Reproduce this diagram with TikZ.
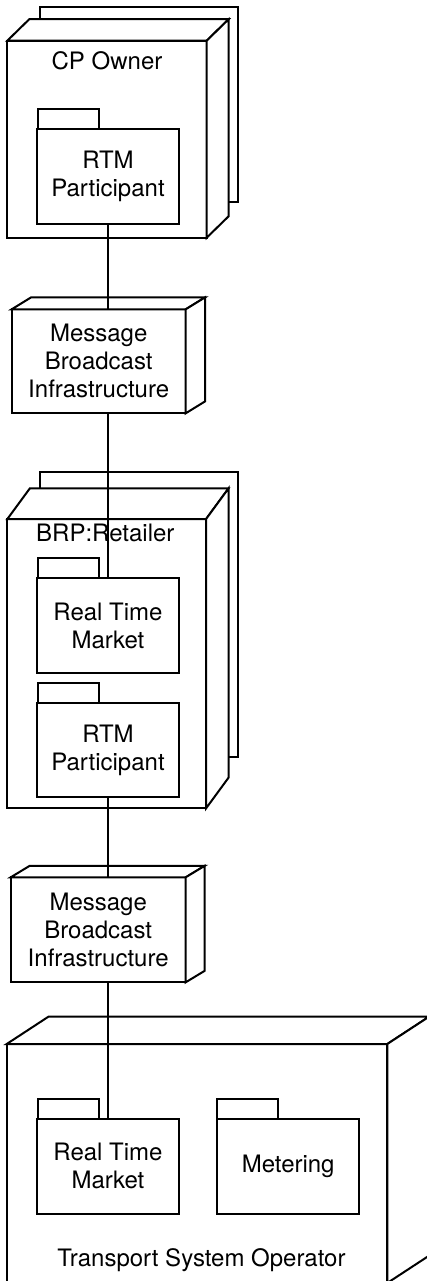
\documentclass[tikz,border=0pt]{standalone}
\usepackage{fontspec}
\setmainfont{TeX Gyre Heros}
\usetikzlibrary{calc}

% top and right faces of a 3D deployment node drawn behind its front face
\newcommand\nodefaces[3]{%
  \draw[edge,fill=white] (#1.north west) -- ++(#2,#3)
    -- ($(#1.north east)+(#2,#3)$) -- (#1.north east) -- cycle;
  \draw[edge,fill=white] (#1.north east) -- ++(#2,#3)
    -- ($(#1.south east)+(#2,#3)$) -- (#1.south east) -- cycle;
}
% small tab on top of a package
\newcommand\pkgtab[2]{%
  \draw[edge,fill=white] ($(#1.north west)+(#2,0)$) rectangle ++(60.5,-20);
}

\tikzset{
  edge/.style={line width=2pt, line join=miter},
  txt/.style={font=\fontsize{24}{28}\selectfont, align=center, inner sep=0pt},
  front/.style={edge, draw, fill=white, rectangle, inner sep=0pt, outer sep=0pt},
  pkg/.style={front, txt, minimum width=142.6pt, minimum height=95pt},
  wire/.style={line width=2pt},
}

\begin{document}
\begin{tikzpicture}[x=1pt,y=-1pt]
\useasboundingbox (0,0) rectangle (427,1281);
\clip (0,0) rectangle (427,1281);

% ---- CP Owner (stacked node)
\draw[edge,fill=white] (40,7.3) rectangle (238.3,201.7);
\node[front, minimum width=199.4pt, minimum height=197pt] (cpOwner) at (107,139.2) {};
\nodefaces{cpOwner}{22}{-21.5}
\node[txt, anchor=base] (cpLbl) at (107,69.3) {CP Owner};
\node[pkg] (cpRTMP) at (108,176.5) {RTM\\Participant};
\pkgtab{cpRTMP}{1.6}

% ---- first message broadcast infrastructure
\node[front, txt, minimum width=174pt, minimum height=104pt] (mbiA) at (98.7,361.3)
  {Message\\Broadcast\\Infrastructure};
\nodefaces{mbiA}{19.5}{-12}

% ---- BRP:Retailer (stacked node)
\draw[edge,fill=white] (40,471.7) rectangle (238.3,756.7);
\node[front, minimum width=198.7pt, minimum height=289.3pt] (brp) at (106.7,663.7) {};
\nodefaces{brp}{22.5}{-30.7}
\node[txt, anchor=base] (brpLbl) at (105.3,541.7) {BRP:Retailer};
\node[pkg] (brpRTM) at (108,625.8) {Real Time\\Market};
\pkgtab{brpRTM}{1.6}
\node[pkg, minimum height=94pt] (brpRTMP) at (108,750.3) {RTM\\Participant};
\pkgtab{brpRTMP}{1.6}

% ---- second message broadcast infrastructure
\node[front, txt, minimum width=175pt, minimum height=105pt] (mbiB) at (98.2,929.8)
  {Message\\Broadcast\\Infrastructure};
\nodefaces{mbiB}{19}{-11.5}

% ---- Transport System Operator
\node[front, minimum width=380.6pt, minimum height=239pt] (tso) at (197,1163.5) {};
\nodefaces{tso}{41.7}{-27.3}
\node[pkg] (tsoRTM) at (108,1166.2) {Real Time\\Market};
\pkgtab{tsoRTM}{1.6}
\node[pkg, minimum width=141.7pt] (tsoMet) at (288.2,1166.2) {Metering};
\pkgtab{tsoMet}{0}
\node[txt, anchor=base] (tsoLbl) at (201.5,1266.7) {Transport System Operator};

% ---- connectors
\draw[wire] (cpRTMP.south) -- (cpRTMP.south |- mbiA.north);
\draw[wire] (brpRTM.north |- mbiA.south) -- (brpRTM.north);
\draw[wire] (brpRTMP.south) -- (brpRTMP.south |- mbiB.north);
\draw[wire] (tsoRTM.north |- mbiB.south) -- (tsoRTM.north);
\end{tikzpicture}
\end{document}
